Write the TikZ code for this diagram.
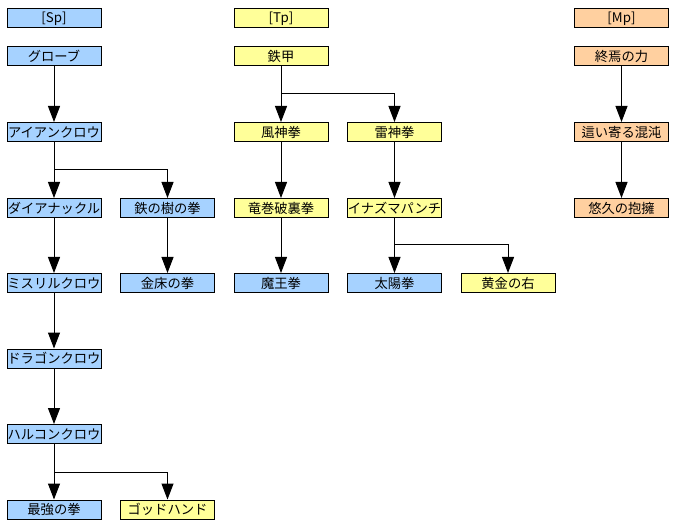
\documentclass[tikz,border=0pt]{standalone}
\usepackage{fontspec}
\newfontfamily\jpfont{Noto Sans CJK JP}
\usetikzlibrary{arrows.meta}
\definecolor{spblue}{HTML}{A6D2FF}
\definecolor{tpyellow}{HTML}{FFFF99}
\definecolor{mporange}{HTML}{FFD0A0}
\tikzset{
	box/.style={draw, line width=1pt, minimum width=94pt, minimum height=19pt, inner sep=0pt, font=\jpfont\fontsize{13.3}{13.3}\selectfont},
	spbox/.style={box, fill=spblue},
	tpbox/.style={box, fill=tpyellow},
	mpbox/.style={box, fill=mporange},
	arr/.style={line width=1pt, -{Triangle[width=12pt,length=16pt]}}
}

\begin{document}
\begin{tikzpicture}[x=1pt, y=-1pt]
			%%%%% START %%%%%
			
			\useasboundingbox (0, 0) rectangle (677, 529);
			
			%%%%% Sp %%%%%
			\node[spbox] (sp) at (54, 18.5) {[Sp]};
			\node[spbox] (glove) at (54, 56) {グローブ};
			\node[spbox] (iron) at (54, 132) {アイアンクロウ};
			\node[spbox] (diaknuckle) at (54, 208) {ダイアナックル};
			\node[spbox] (ironwood) at (167.5, 208) {鉄の樹の拳};
			\node[spbox] (mithril) at (54, 283) {ミスリルクロウ};
			\node[spbox] (anvil) at (167.5, 283) {金床の拳};
			\node[spbox] (dragon) at (54, 358.5) {ドラゴンクロウ};
			\node[spbox] (harukon) at (54, 434) {ハルコンクロウ};
			\node[spbox] (strongest) at (54, 509.5) {最強の拳};
			\node[tpbox] (godhand) at (167.5, 509.5) {ゴッドハンド};
			
			%%%%% Tp %%%%%
			\node[tpbox] (tp) at (281, 18.5) {[Tp]};
			\node[tpbox] (tekko) at (281, 56) {鉄甲};
			\node[tpbox] (fujin) at (281, 132) {風神拳};
			\node[tpbox] (raijin) at (394.5, 132) {雷神拳};
			\node[tpbox] (tornado) at (281, 208) {竜巻破裏拳};
			\node[tpbox] (inazuma) at (394.5, 208) {イナズマパンチ};
			\node[spbox] (maou) at (281, 283) {魔王拳};
			\node[spbox] (taiyou) at (394.5, 283) {太陽拳};
			\node[tpbox] (golden) at (508, 283) {黄金の右};
			
			%%%%% Mp %%%%%
			\node[mpbox] (mp) at (621.5, 18.5) {[Mp]};
			\node[mpbox] (shuen) at (621.5, 56) {終焉の力};
			\node[mpbox] (chaos) at (621.5, 132) {這い寄る混沌};
			\node[mpbox] (embrace) at (621.5, 208) {悠久の抱擁};
			
			%%%%% branch points %%%%%
			\coordinate (ironfork) at (54, 170);
			\coordinate (harukonfork) at (54, 472);
			\coordinate (tekkofork) at (281, 94);
			\coordinate (inazumafork) at (394.5, 245);
			
			\draw[arr] (glove) -- (iron);
			\draw[line width=1pt] (iron) -- (ironfork);
			\draw[arr] (ironfork) -- (diaknuckle);
			\draw[arr] (ironfork) -| (ironwood);
			\draw[arr] (diaknuckle) -- (mithril);
			\draw[arr] (ironwood) -- (anvil);
			\draw[arr] (mithril) -- (dragon);
			\draw[arr] (dragon) -- (harukon);
			\draw[line width=1pt] (harukon) -- (harukonfork);
			\draw[arr] (harukonfork) -- (strongest);
			\draw[arr] (harukonfork) -| (godhand);
			
			\draw[line width=1pt] (tekko) -- (tekkofork);
			\draw[arr] (tekkofork) -- (fujin);
			\draw[arr] (tekkofork) -| (raijin);
			\draw[arr] (fujin) -- (tornado);
			\draw[arr] (raijin) -- (inazuma);
			\draw[arr] (tornado) -- (maou);
			\draw[line width=1pt] (inazuma) -- (inazumafork);
			\draw[arr] (inazumafork) -- (taiyou);
			\draw[arr] (inazumafork) -| (golden);
			
			\draw[arr] (shuen) -- (chaos);
			\draw[arr] (chaos) -- (embrace);
			
			%%%%% END %%%%%
\end{tikzpicture}
\end{document}
